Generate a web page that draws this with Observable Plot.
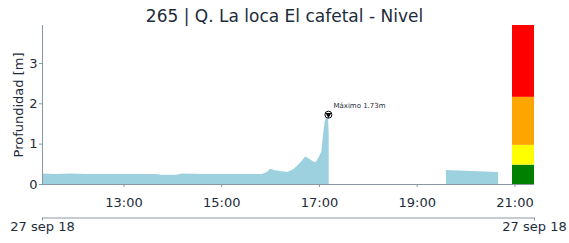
<!DOCTYPE html>
<html><head><meta charset="utf-8">
<script src="https://cdn.jsdelivr.net/npm/d3@7"></script>
<script src="https://cdn.jsdelivr.net/npm/@observablehq/plot@0.6"></script>
<style>
body{margin:0;background:#fff;font-family:"DejaVu Sans",sans-serif;}
#title{height:14px;padding-top:8px;line-height:16px;text-align:center;font-size:17px;color:#1d2c3b;white-space:nowrap;overflow:visible;}
#chart svg{background:transparent;}
</style>
</head><body>
<div id="title">265 | Q. La loca El cafetal - Nivel</div>
<div id="chart"></div>
<script>
// ---- data ----
const day = "2018-09-27";
const times = ["11:20","11:35","11:55","12:15","12:45","13:15","13:40","13:46","14:05","14:12","14:40","15:20","15:50","15:56","16:00","16:05","16:12","16:21","16:28","16:33","16:37","16:43","16:47","16:53","16:56","17:00","17:03","17:05","17:07","17:09","17:11","17:12","17:13","19:36","20:08","20:40"];
const depths = [0.26,0.25,0.26,0.25,0.25,0.25,0.25,0.23,0.23,0.26,0.25,0.25,0.25,0.30,0.38,0.35,0.32,0.30,0.36,0.45,0.53,0.68,0.64,0.56,0.54,0.68,0.81,1.22,1.55,1.66,1.73,1.20,null,0.35,0.32,0.30];
const levelNames = ["bajo","medio","alto","crítico"];
const levelLower = [0, 0.48, 0.97, 2.16];
const levelUpper = [0.48, 0.97, 2.16, 3.94];
const levelColors = ["#008000","#ffff00","#ffa500","#ff0000"];
const xTickTimes = ["13:00","15:00","17:00","19:00","21:00"];
const yTicks = [0,1,2,3];
const domainStartTime = "11:20";
const domainEndTime = "21:24";
const barStartTime = "20:57";

// ---- build ----
const parse = s => new Date(`${day}T${s}:00Z`);
const series = times.map((t,i) => ({t: parse(t), v: depths[i]}));
const levels = levelNames.map((n,i) => ({name:n, lo:levelLower[i], hi:levelUpper[i], color:levelColors[i]}));
const defined = series.filter(d => d.v != null);
const peak = defined.reduce((a,b) => b.v > a.v ? b : a);
const x0 = parse(domainStartTime), x1 = parse(domainEndTime), xb = parse(barStartTime);

const es = d3.timeFormatLocale({
  dateTime:"%A, %e de %B de %Y, %X", date:"%d/%m/%Y", time:"%H:%M:%S", periods:["AM","PM"],
  days:["domingo","lunes","martes","miércoles","jueves","viernes","sábado"],
  shortDays:["dom","lun","mar","mié","jue","vie","sáb"],
  months:["enero","febrero","marzo","abril","mayo","junio","julio","agosto","septiembre","octubre","noviembre","diciembre"],
  shortMonths:["ene","feb","mar","abr","may","jun","jul","ago","sep","oct","nov","dic"]
});
const hourFmt = d3.utcFormat("%H:%M");
const dayFmt = es.utcFormat("%d %b %y");

const axisColor = "#8a97a4";
const textColor = "#1d2c3b";

const plot = Plot.plot({
  width: 569, height: 221,
  marginTop: 3, marginBottom: 59, marginLeft: 42, marginRight: 35,
  style: {fontFamily: "DejaVu Sans, sans-serif", fontSize: "13px", color: textColor, background: "transparent", overflow: "visible"},
  x: {type: "utc", domain: [x0, x1]},
  y: {domain: [0, levelUpper[levelUpper.length-1]]},
  color: {type: "identity"},
  marks: [
    Plot.areaY(series, {x: "t", y1: () => 0, y2: "v", fill: "#9dd1e0"}),
    Plot.rectY(levels, {x1: () => xb, x2: () => x1, y1: "lo", y2: "hi", fill: "color"}),
    Plot.ruleY([0], {stroke: axisColor}),
    Plot.ruleX([x0], {stroke: axisColor}),
    Plot.axisY({ticks: yTicks, tickFormat: d3.format("d"), tickSize: 3, tickPadding: 2, label: null, stroke: axisColor, fill: textColor, fontSize: 13}),
    Plot.axisX(xTickTimes.map(parse), {tickFormat: hourFmt, tickSize: 3, tickPadding: 10, label: null, stroke: axisColor, fill: textColor, fontSize: 13}),
    Plot.ruleY([0], {x1: () => x0, x2: () => x1, dy: 33.5, stroke: axisColor}),
    Plot.axisX([x0, x1], {tickFormat: dayFmt, tickSize: 3, tickPadding: 0.5, dy: 33.5, label: null, stroke: axisColor, fill: textColor, fontSize: 13}),
    Plot.text(["Profundidad [m]"], {text: d => d, frameAnchor: "left", textAnchor: "middle", lineAnchor: "middle", rotate: -90, dx: -24, fontSize: 13, fill: textColor}),
    Plot.dot([peak], {x: "t", y: "v", r: 3.5, fill: "white", stroke: "black", strokeWidth: 1}),
    Plot.dot([peak], {x: "t", y: "v", symbol: "triangle", r: 2.2, rotate: 180, fill: "black"}),
    Plot.text([peak], {x: "t", y: "v", text: d => `Máximo ${d.v}m`, dx: 5, dy: -8.5, textAnchor: "start", fontSize: 7, fill: textColor})
  ]
});
document.getElementById("chart").appendChild(plot);
</script>
</body></html>
